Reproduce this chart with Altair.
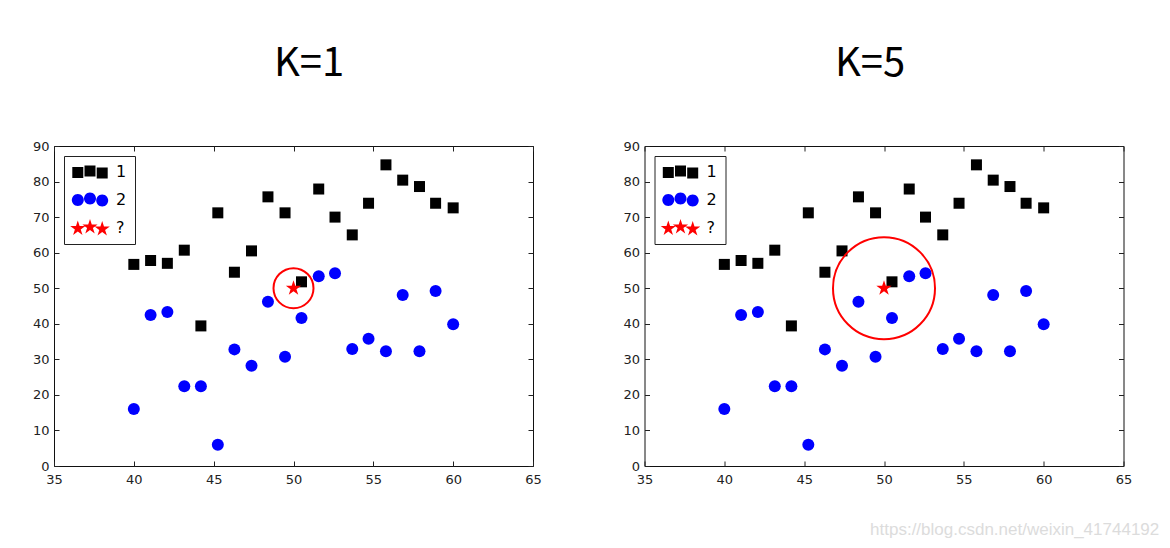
import math
import altair as alt
import pandas as pd

# ---------------- data ----------------
class1_x = [40.0, 41.05, 42.1, 43.16, 44.2, 45.26, 46.3, 47.37, 48.4, 49.47,
            50.5, 51.58, 52.6, 53.68, 54.7, 55.79, 56.84, 57.89, 58.9, 60.0]
class1_y = [56.7, 57.8, 57.0, 60.7, 39.4, 71.2, 54.5, 60.5, 75.7, 71.2,
            51.8, 77.9, 70.0, 65.0, 73.9, 84.7, 80.4, 78.6, 73.9, 72.6]
class2_x = [40.0, 41.05, 42.1, 43.16, 44.2, 45.26, 46.3, 47.37, 48.4, 49.47,
            50.5, 51.58, 52.6, 53.68, 54.7, 55.79, 56.84, 57.89, 58.9, 60.0]
class2_y = [16.0, 42.5, 43.3, 22.4, 22.4, 6.0, 32.8, 28.2, 46.2, 30.7,
            41.6, 53.4, 54.2, 32.9, 35.8, 32.3, 48.1, 32.3, 49.2, 39.9]
query_x = [50.0]
query_y = [50.0]
legend_labels = ["1", "2", "?"]
panel_titles = ["K=1", "K=5"]
x_ticks = [35, 40, 45, 50, 55, 60, 65]
y_ticks = [0, 10, 20, 30, 40, 50, 60, 70, 80, 90]
watermark = "https://blog.csdn.net/weixin_41744192"


# ---------------- marker shapes (unit paths) ----------------
def star_path(cx=0.0, cy=0.0, R=1.0, ratio=0.382):
    pts = []
    for i in range(10):
        a = math.radians(-90 + 36 * i)
        r = R if i % 2 == 0 else R * ratio
        pts.append((cx + r * math.cos(a), cy + r * math.sin(a)))
    return "M" + " L".join(f"{x:.3f},{y:.3f}" for x, y in pts) + " Z"


def circle_path(cx, cy, R, n=28):
    pts = []
    for i in range(n):
        a = 2 * math.pi * i / n
        pts.append((cx + R * math.cos(a), cy + R * math.sin(a)))
    return "M" + " L".join(f"{x:.3f},{y:.3f}" for x, y in pts) + " Z"


def square_path(cx, cy, s):
    return f"M{cx - s / 2:.3f},{cy - s / 2:.3f} h{s:.3f} v{s:.3f} h{-s:.3f} Z"


lx = [-2.44, 0.0, 2.44]
ly = [0.1, -0.2, 0.2]
leg_square = " ".join(square_path(a, b, 2.2) for a, b in zip(lx, ly))
leg_circle = " ".join(circle_path(a, b, 1.2) for a, b in zip(lx, ly))
leg_star = " ".join(star_path(a, b, 1.6) for a, b in zip(lx, ly))
STAR = star_path()

df1 = pd.DataFrame({"x": class1_x, "y": class1_y})
df2 = pd.DataFrame({"x": class2_x, "y": class2_y})
dq = pd.DataFrame({"x": query_x, "y": query_y})
# legend anchor rows lie outside the x-domain and are clipped away
dl = pd.DataFrame({"x": [20.0] * 3, "y": [50.0] * 3, "lg": legend_labels})

xscale = alt.Scale(domain=[35, 65], nice=False, zero=False)
yscale = alt.Scale(domain=[0, 90], nice=False, zero=False)
inward = {"expr": "-5"}
ax_common = dict(grid=False, domain=False, tickColor="#222", tickWidth=1,
                 labelFont="DejaVu Sans", labelFontSize=13, labelColor="#222",
                 title=None)

x_bottom = alt.Axis(orient="bottom", values=x_ticks, tickSize=inward, labelPadding=12,
                    labelFlush=False, labelOverlap=False, format="d", **ax_common)
y_left = alt.Axis(orient="left", values=y_ticks, tickSize=inward, labelPadding=10,
                  labelOverlap=False, format="d", **ax_common)
x_top = alt.Axis(orient="top", values=x_ticks, tickSize=inward, labels=False, **ax_common)
y_right = alt.Axis(orient="right", values=y_ticks, tickSize=inward, labels=False, **ax_common)


def panel(title, ring_size, dx):
    sq = alt.Chart(df1).mark_square(size=121, color="black", opacity=1).encode(
        x=alt.X("x:Q", scale=xscale, axis=x_bottom),
        y=alt.Y("y:Q", scale=yscale, axis=y_left),
    )
    ci = alt.Chart(df2).mark_circle(size=144, color="#0000ff", opacity=1).encode(
        x=alt.X("x:Q", scale=xscale, axis=x_top),
        y=alt.Y("y:Q", scale=yscale, axis=y_right),
    )
    st = alt.Chart(dq).mark_point(shape=STAR, filled=True, color="#ff0000", size=260,
                                  opacity=1, strokeWidth=0).encode(
        x=alt.X("x:Q", scale=xscale, axis=None),
        y=alt.Y("y:Q", scale=yscale, axis=None),
    )
    ring = alt.Chart(dq).mark_point(shape="circle", filled=False, stroke="#ff0000",
                                    strokeWidth=2, size=ring_size, opacity=1).encode(
        x=alt.X("x:Q", scale=xscale, axis=None),
        y=alt.Y("y:Q", scale=yscale, axis=None),
    )
    leg = alt.Chart(dl).mark_point(filled=True, opacity=1, clip=True, strokeWidth=0).encode(
        x=alt.X("x:Q", scale=xscale, axis=None),
        y=alt.Y("y:Q", scale=yscale, axis=None),
        color=alt.Color("lg:N", title=None,
                        scale=alt.Scale(domain=legend_labels, range=["#000000", "#0000ff", "#ff0000"])),
        shape=alt.Shape("lg:N", title=None,
                        scale=alt.Scale(domain=legend_labels, range=[leg_square, leg_circle, leg_star])),
    )
    return alt.layer(sq, ci, st, ring, leg).resolve_axis(
        x="independent", y="independent"
    ).properties(
        width=479, height=320,
        title=alt.Title(title, fontSize=40, font="Noto Sans CJK SC", fontWeight="normal",
                        color="black", anchor="middle", dx=dx, offset=56),
    )


chart = alt.hconcat(
    panel(panel_titles[0], 1600, 15.5),
    panel(panel_titles[1], 10404, -14),
    spacing=79.5,
).resolve_scale(color="independent", shape="independent").resolve_legend(
    color="independent", shape="independent"
).properties(
    title=alt.Title(watermark, orient="bottom", anchor="end", fontSize=17,
                    font="Liberation Sans", fontWeight="normal", color="#dcdcdc",
                    offset=35, dx=27),
    padding={"left": 23, "top": 35, "right": 2, "bottom": 2},
).configure_view(
    stroke="#111", strokeWidth=1
).configure_legend(
    orient="top-left", offset=10, padding=8, rowPadding=11.5, symbolSize=100,
    symbolOffset=10, labelOffset=18, labelFontSize=16, labelFont="DejaVu Sans",
    labelColor="black", strokeColor="#222", fillColor="white", cornerRadius=0,
    symbolStrokeWidth=0,
)

chart.save("out.html", embed_options={"renderer": "svg", "actions": False})
